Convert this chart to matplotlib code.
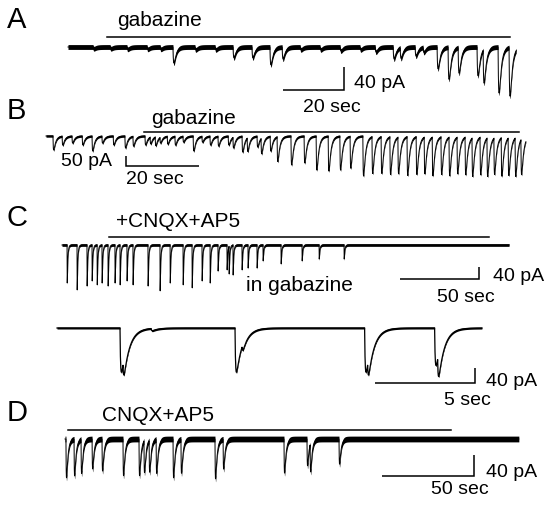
import numpy as np
import matplotlib.pyplot as plt

plt.rcParams['font.family'] = ['Liberation Sans', 'DejaVu Sans']

# ---- data (event onset in s, amplitude in pA) ----
# A : gabazine, 20 sec / 40 pA
a_end = 147.0
a_times = [8.2, 13.8, 19.3, 25.9, 30.2, 34.4, 41.6, 48.2, 54.1, 60.3, 66.2, 70.2,
           76.1, 82.6, 89.2, 95.7, 100.7, 106.6, 108.9, 113.8, 116.4, 121.0,
           124.6, 127.9, 134.1, 136.1, 141.0, 144.6]
a_amps = [3, 3, 4, 4, 4, 28, 5, 5, 19, 19, 31, 21,
          5, 5, 7, 5, 9, 21, 19, 16, 9, 38,
          56, 45, 50, 59, 80, 85]

# B : gabazine, 20 sec / 50 pA
b_end = 131.5
b_times = [1.9, 4.4, 7.1, 9.9, 12.6, 15.3, 18.4, 21.6, 23.8, 27.1, 28.5, 29.9,
           31.2, 33.2, 35.3, 37.5, 40.3, 42.7, 44.9, 47.1, 49.9, 51.2, 53.7,
           55.1, 57.8, 58.9, 61.4, 63.3, 67.1, 70.7, 74.0, 77.3, 80.5, 83.3,
           86.8, 89.3, 91.8, 94.2, 96.4, 98.9, 101.4, 103.6, 105.8, 108.2,
           110.4, 112.6, 114.8, 116.7, 118.9, 120.8, 122.7, 124.7, 126.6,
           128.5, 130.1]
b_amps = [70, 45, 35, 45, 75, 35, 45, 60, 50, 45, 35, 45,
          30, 40, 45, 30, 75, 30, 45, 50, 45, 55, 80,
          70, 55, 80, 75, 125, 145, 135, 170, 175, 170, 160,
          200, 185, 185, 190, 185, 195, 190, 185, 195, 190,
          195, 185, 190, 195, 190, 195, 185, 195, 190,
          195, 180]

# C (top) : +CNQX+AP5 in gabazine, 50 sec / 40 pA
c_end = 283.0
c_times = [3.2, 9.5, 15.8, 19.0, 22.2, 25.3, 29.1, 33.5, 36.7, 41.1, 44.9, 54.4,
           62.0, 68.4, 76.6, 82.3, 88.6, 93.7, 98.7, 104.4, 105.7, 108.2,
           113.9, 117.7, 123.4, 127.2, 138.6, 151.9, 162.7, 178.5]
c_amps = [127, 150, 137, 120, 133, 127, 137, 127, 133, 120, 133, 137,
          153, 127, 133, 143, 120, 127, 87, 83, 93, 100,
          83, 77, 77, 53, 63, 53, 47, 47]

# C (bottom) : expanded events, 5 sec / 40 pA
c2_end = 21.25
c2_times = [3.15, 3.3, 4.7, 8.9, 9.25, 15.38, 15.53, 18.88, 19.03]
c2_amps = [118, 42, 6, 118, 16, 118, 42, 100, 60]

# D : CNQX+AP5, 50 sec / 40 pA
d_end = 246.7
d_times = [0.5, 4.9, 8.7, 14.7, 20.1, 31.5, 40.2, 42.9, 45.7, 49.5, 58.7,
           63.0, 81.5, 85.9, 119.0, 131.5, 133.2, 148.9]
d_amps = [74, 70, 65, 57, 61, 70, 70, 61, 61, 65, 74,
          65, 76, 57, 65, 51, 55, 48]


def psc(t, onsets, amps, rise, decay):
    s_pk = rise * np.log((rise + decay) / rise)
    pk = (1 - np.exp(-s_pk / rise)) * np.exp(-s_pk / decay)
    y = np.zeros_like(t)
    for t0, a in zip(onsets, amps):
        s = np.clip(t - t0, 0, None)
        y -= a * (1 - np.exp(-s / rise)) * np.exp(-s / decay) / pk
    return y


W, H = 550, 506
fig = plt.figure(figsize=(5.5, 5.06), dpi=100)


def panel(x0, base, px_s, px_pa):
    ax = fig.add_axes([0, 0, 1, 1])
    ax.set_xlim(-x0 / px_s, (W - x0) / px_s)
    ax.set_ylim(-(H - base) / px_pa, base / px_pa)
    ax.axis('off')
    ax.patch.set_visible(False)
    return ax


def draw_trace(ax, t, y, half, lw=0.7):
    ax.fill_between(t, y - half, y + half, color='black', lw=0)
    ax.plot(t, y, color='black', lw=lw)


def scalebar(ax, x, y, dx, dy):
    ax.plot([x - dx, x, x], [y, y, y + dy], color='black', lw=1.1,
            solid_joinstyle='miter', solid_capstyle='butt')


fs = 14
fs_drug = 15
lab = 21

# ---- A ----
ax = panel(68, 48, 3.05, 0.575)
t = np.arange(0, a_end, 0.05)
draw_trace(ax, t, psc(t, a_times, a_amps, 0.25, 0.7), 4.2)
ax.plot([12.8, 145], [17.4, 17.4], color='black', lw=1.1)
ax.text(16, 47, 'gabazine', fontsize=fs_drug, va='center')
scalebar(ax, 90.5, -74.8, 20, 40)
ax.text(93.8, -61, '40 pA', fontsize=fs, va='center')
ax.text(86.6, -104, '20 sec', fontsize=fs, va='center', ha='center')
fig.text(7 / W, 1 - 20 / H, 'A', fontsize=lab, va='center')

# ---- B ----
ax = panel(46, 137, 3.65, 0.2)
t = np.arange(0, b_end, 0.05)
draw_trace(ax, t, psc(t, b_times, b_amps, 0.12, 0.55), 6.0)
ax.plot([26.8, 129.6], [20, 20], color='black', lw=1.1)
ax.text(28.8, 95, 'gabazine', fontsize=fs_drug, va='center')
scalebar(ax, 21.9, -150, -20, 50)
ax.text(18.1, -120, '50 pA', fontsize=fs, va='center', ha='right')
ax.text(21.9, -215, '20 sec', fontsize=fs, va='center')
fig.text(7 / W, 1 - 111 / H, 'B', fontsize=lab, va='center')

# ---- C top ----
ax = panel(62, 246, 1.58, 0.3)
t = np.arange(0, c_end, 0.05)
draw_trace(ax, t, psc(t, c_times, c_amps, 0.05, 0.4), 4.5)
ax.plot([29.7, 270.3], [26.7, 26.7], color='black', lw=1.1)
ax.text(34.2, 83, '+CNQX+AP5', fontsize=fs_drug, va='center')
ax.text(116.5, -133, 'in gabazine', fontsize=fs_drug, va='center')
scalebar(ax, 263.9, -113, 50, 40)
ax.text(272.8, -103, '40 pA', fontsize=fs, va='center')
ax.text(237.3, -173, '50 sec', fontsize=fs, va='center')
fig.text(7 / W, 1 - 218 / H, 'C', fontsize=lab, va='center')

# ---- C bottom ----
ax = panel(57, 329, 20, 0.375)
t = np.arange(0, c2_end, 0.005)
draw_trace(ax, t, psc(t, c2_times, c2_amps, 0.03, 0.3), 2.7, lw=0.9)
scalebar(ax, 20.9, -146.7, 5, 40)
ax.text(21.45, -138.7, '40 pA', fontsize=fs, va='center')
ax.text(19.35, -192, '5 sec', fontsize=fs, va='center')

# ---- D ----
ax = panel(65, 440, 1.84, 0.525)
t = np.arange(0, d_end, 0.05)
draw_trace(ax, t, psc(t, d_times, d_amps, 0.2, 0.8), 5.5)
ax.plot([1.6, 209.8], [17, 17], color='black', lw=1.1)
ax.text(20.1, 47.6, 'CNQX+AP5', fontsize=fs_drug, va='center')
scalebar(ax, 222.3, -70.5, 50, 40)
ax.text(228.8, -61, '40 pA', fontsize=fs, va='center')
ax.text(198.9, -95, '50 sec', fontsize=fs, va='center')
fig.text(7 / W, 1 - 413 / H, 'D', fontsize=lab, va='center')

fig.savefig('out.png', dpi=100, facecolor='white')
